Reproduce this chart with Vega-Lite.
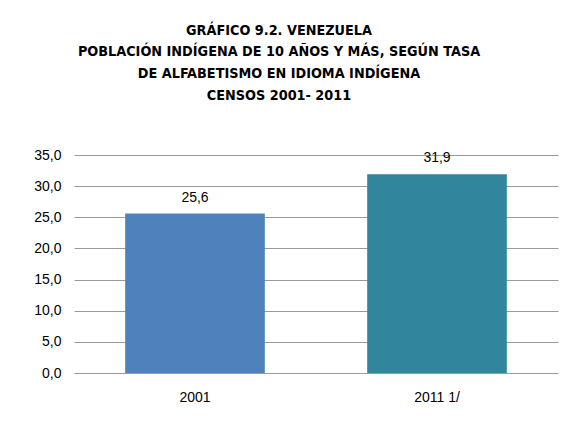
{
  "$schema": "https://vega.github.io/schema/vega-lite/v6.json",
  "autosize": {"type": "none"},
  "width": 484,
  "height": 218,
  "padding": {"left": 74, "top": 155, "right": 6, "bottom": 50},
  "background": "white",
  "config": {
    "locale": {"number": {"decimal": ",", "thousands": ".", "grouping": [3], "currency": ["", ""]}},
    "view": {"stroke": null},
    "font": "Liberation Sans"
  },
  "title": {
    "text": ["GRÁFICO 9.2. VENEZUELA", "POBLACIÓN INDÍGENA DE 10 AÑOS Y MÁS, SEGÚN TASA", "DE ALFABETISMO EN IDIOMA INDÍGENA", "CENSOS 2001- 2011"],
    "font": "DejaVu Sans Condensed",
    "fontSize": 14.3,
    "fontWeight": "bold",
    "lineHeight": 21.7,
    "anchor": "middle",
    "dx": -37,
    "offset": 45,
    "color": "black"
  },
  "data": {"values": [
    {"censo": "2001", "tasa": 25.6},
    {"censo": "2011 1/", "tasa": 31.9}
  ]},
  "encoding": {
    "x": {
      "field": "censo", "type": "nominal", "sort": null,
      "scale": {"paddingInner": 0.423, "paddingOuter": 0.2115},
      "axis": {"title": null, "labelAngle": 0, "ticks": false, "domain": false, "labelPadding": 17, "labelFontSize": 14, "labelColor": "black"}
    },
    "y": {
      "field": "tasa", "type": "quantitative",
      "scale": {"domain": [0, 35], "nice": false},
      "axis": {"title": null, "values": [0, 5, 10, 15, 20, 25, 30, 35], "format": ".1f", "ticks": false, "domain": false, "labelPadding": 13, "labelFontSize": 14, "labelColor": "black", "gridColor": "#9a9a9a", "gridWidth": 1.2}
    }
  },
  "layer": [
    {
      "mark": {"type": "bar"},
      "encoding": {
        "color": {"field": "censo", "type": "nominal", "sort": null, "scale": {"range": ["#4F81BD", "#31859C"]}, "legend": null}
      }
    },
    {
      "mark": {"type": "text", "dy": -9, "baseline": "bottom", "fontSize": 14, "color": "black"},
      "encoding": {"text": {"field": "tasa", "type": "quantitative", "format": ".1f"}}
    }
  ]
}
